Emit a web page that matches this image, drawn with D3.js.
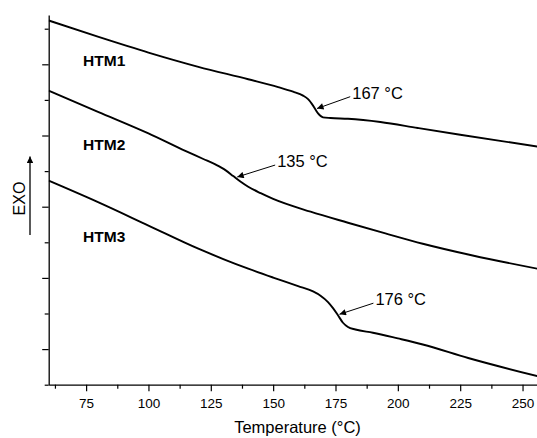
<!DOCTYPE html>
<html>
<head>
<meta charset="utf-8">
<script src="https://cdn.jsdelivr.net/npm/d3@7"></script>
<style>
  html, body { margin: 0; padding: 0; background: #fff; }
  svg { display: block; font-family: "Liberation Sans", Arial, sans-serif; }
</style>
</head>
<body>
<svg id="chart" width="537" height="438"></svg>
<script>
// DSC heat-flow traces (arbitrary units, offset for clarity) vs temperature
const htm1Temp = [60, 80, 100, 120, 140, 152, 158, 162, 164, 166, 168, 170, 173, 180, 193, 208, 225, 255.9];
const htm1Flow = [9.23, 8.77, 8.33, 7.93, 7.58, 7.36, 7.23, 7.12, 7.02, 6.84, 6.62, 6.51, 6.49, 6.47, 6.38, 6.21, 6.02, 5.69];

const htm2Temp = [60, 80, 100, 115, 122, 127, 131, 134, 137, 140, 145, 150, 165, 180, 195, 210, 230, 255.9];
const htm2Flow = [7.26, 6.66, 6.06, 5.56, 5.34, 5.18, 5.02, 4.86, 4.70, 4.56, 4.38, 4.22, 3.86, 3.55, 3.25, 2.96, 2.63, 2.26];

const htm3Temp = [60, 80, 100, 120, 130, 140, 150, 160, 166, 169, 172, 174, 176, 178, 180, 183, 190, 200, 210, 228.2, 255.9];
const htm3Flow = [4.73, 4.12, 3.47, 2.82, 2.53, 2.26, 2.01, 1.77, 1.62, 1.50, 1.32, 1.15, 0.95, 0.74, 0.62, 0.55, 0.46, 0.30, 0.13, -0.25, -0.76];

const seriesNames = ["HTM1", "HTM2", "HTM3"];
// glass transition temperatures (°C)
const tgValues = [167, 135, 176];

const xMajorTicks = [75, 100, 125, 150, 175, 200, 225, 250];
const xMinorTicks = [62.5, 87.5, 112.5, 137.5, 162.5, 187.5, 212.5, 237.5];
const yMajorTicks = [0, 2, 4, 6, 8];
const yMinorTicks = [-1, 1, 3, 5, 7, 9];

const xLabel = "Temperature (°C)";
const yLabel = "EXO";

// ---- layout ----
const plot = { left: 48.7, right: 537.5, top: 15, bottom: 384.7 };
const x = d3.scaleLinear().domain([60, 256]).range([plot.left, plot.right]);
const y = d3.scaleLinear().domain([-1, 9.385]).range([plot.bottom, plot.top]);

const svg = d3.select("#chart");
const series = [
  { name: seriesNames[0], t: htm1Temp, v: htm1Flow, tg: tgValues[0],
    nameAt: [73.8, 7.95], tagAt: [180.9, 7.09] },
  { name: seriesNames[1], t: htm2Temp, v: htm2Flow, tg: tgValues[1],
    nameAt: [73.8, 5.59], tagAt: [150.8, 5.17] },
  { name: seriesNames[2], t: htm3Temp, v: htm3Flow, tg: tgValues[2],
    nameAt: [73.8, 3.02], tagAt: [190.2, 1.29] }
];

// arrowhead marker
svg.append("defs").append("marker")
  .attr("id", "arrow")
  .attr("viewBox", "0 0 10 10")
  .attr("refX", 10).attr("refY", 5)
  .attr("markerWidth", 8).attr("markerHeight", 6.5)
  .attr("markerUnits", "userSpaceOnUse")
  .attr("orient", "auto")
  .append("path").attr("d", "M0,0 L10,5 L0,10 Z").attr("fill", "#000");

// ---- curves ----
const line = d3.line()
  .x(d => x(d[0]))
  .y(d => y(d[1]))
  .curve(d3.curveMonotoneX);

svg.append("clipPath").attr("id", "plotclip")
  .append("rect")
  .attr("x", plot.left).attr("y", plot.top - 10)
  .attr("width", plot.right - plot.left).attr("height", plot.bottom - plot.top + 10);

series.forEach(s => {
  const pts = s.t.map((t, i) => [t, s.v[i]]);
  svg.append("path")
    .attr("d", line(pts))
    .attr("clip-path", "url(#plotclip)")
    .attr("fill", "none")
    .attr("stroke", "#000")
    .attr("stroke-width", 1.9)
    .attr("stroke-linejoin", "round");

  svg.append("text")
    .attr("x", x(s.nameAt[0])).attr("y", y(s.nameAt[1]))
    .attr("font-size", 15.5).attr("font-weight", "bold")
    .text(s.name);

  // arrow pointing at the Tg on the trace
  const tipV = d3.scaleLinear().domain(s.t).range(s.v)(s.tg);
  const tail = [x(s.tagAt[0]), y(s.tagAt[1])];
  svg.append("line")
    .attr("x1", tail[0]).attr("y1", tail[1])
    .attr("x2", x(s.tg) + 1.5).attr("y2", y(tipV) - 1)
    .attr("stroke", "#000").attr("stroke-width", 1)
    .attr("marker-end", "url(#arrow)");

  svg.append("text")
    .attr("x", tail[0] + 2).attr("y", tail[1] + 2)
    .attr("font-size", 16.5)
    .text(`${s.tg} °C`);
});

// ---- axes ----
const axisStyle = g => {
  g.select(".domain").attr("stroke", "#000").attr("stroke-width", 1.3);
  g.selectAll(".tick line").attr("stroke", "#000").attr("stroke-width", 1.2);
};

const xAxis = svg.append("g").attr("transform", `translate(0,${plot.bottom})`);
xAxis.call(d3.axisBottom(x).tickValues(xMajorTicks).tickSize(6.5).tickSizeOuter(0).tickPadding(7))
  .call(axisStyle);
xAxis.selectAll(".tick text")
  .attr("font-size", 13.5).attr("font-family", "Liberation Sans, Arial, sans-serif").attr("fill", "#000");
svg.append("g").attr("transform", `translate(0,${plot.bottom})`)
  .call(d3.axisBottom(x).tickValues(xMinorTicks).tickSize(4).tickSizeOuter(0).tickFormat(""))
  .call(g => g.select(".domain").remove())
  .call(axisStyle);

const yAxis = svg.append("g").attr("transform", `translate(${plot.left},0)`);
yAxis.call(d3.axisLeft(y).tickValues(yMajorTicks).tickSize(6.5).tickSizeOuter(0).tickFormat(""))
  .call(axisStyle);
svg.append("g").attr("transform", `translate(${plot.left},0)`)
  .call(d3.axisLeft(y).tickValues(yMinorTicks).tickSize(4).tickSizeOuter(0).tickFormat(""))
  .call(g => g.select(".domain").remove())
  .call(axisStyle);

// axis titles
svg.append("text")
  .attr("x", 297.5).attr("y", 432.5)
  .attr("text-anchor", "middle")
  .attr("font-size", 16.5)
  .text(xLabel);

svg.append("text")
  .attr("transform", "translate(25,198.5) rotate(-90)")
  .attr("text-anchor", "middle")
  .attr("font-size", 16)
  .text(yLabel);

svg.append("line")
  .attr("x1", 30).attr("y1", 235).attr("x2", 30).attr("y2", 156.5)
  .attr("stroke", "#000").attr("stroke-width", 1.3)
  .attr("marker-end", "url(#arrow)");
</script>
</body>
</html>
